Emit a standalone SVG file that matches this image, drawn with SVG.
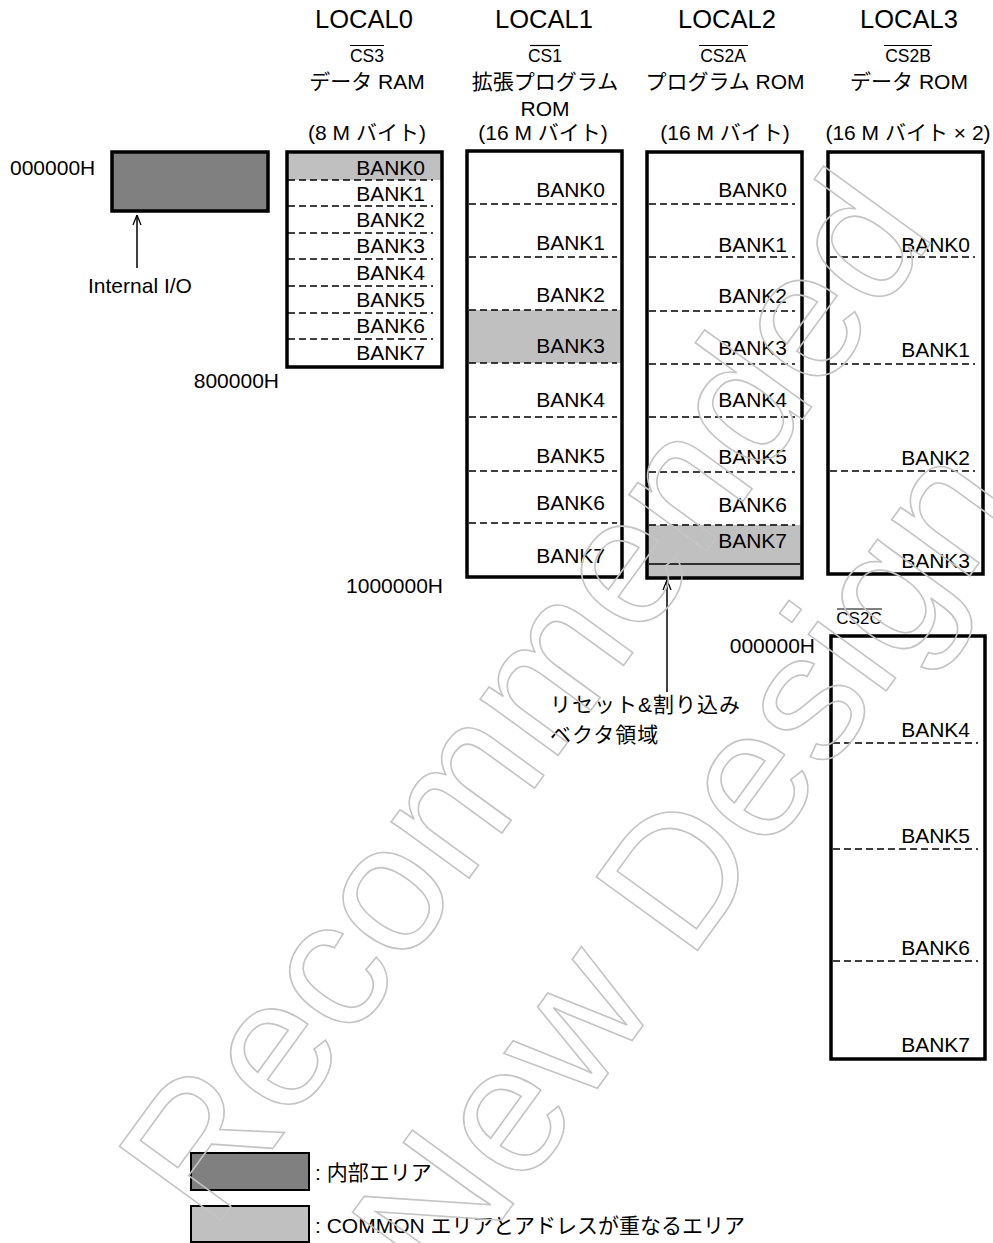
<svg xmlns="http://www.w3.org/2000/svg" width="993" height="1243" viewBox="0 0 993 1243">
<defs>
<style>
text{font-family:"Liberation Sans","Noto Sans CJK JP",Arial,sans-serif;fill:#000}
.t{font-size:21px}
.h{font-size:25.5px;text-anchor:middle}
.cs{font-size:17.5px;text-anchor:middle}
.m{font-size:21px;text-anchor:middle}
.b{font-size:21px;text-anchor:end}
.box{fill:none;stroke:#000;stroke-width:3.5}
.dash{stroke:#000;stroke-width:1.5;stroke-dasharray:7 4;fill:none}
.ol{stroke:#000;stroke-width:1.2}
.g1{fill:#c0c0c0}
.g2{fill:#808080}
.wm{font-size:182px;fill:none;stroke:#c4c4c4;stroke-width:1.6}
</style>
<marker id="ah" viewBox="0 0 10 10" refX="10" refY="5" markerWidth="10" markerHeight="10" markerUnits="userSpaceOnUse" orient="auto">
<path d="M0,1 L10,5 L0,9" fill="none" stroke="#000" stroke-width="1.3"/>
</marker>
</defs>
<rect width="993" height="1243" fill="#fff"/>

<g id="header-local0">
<text class="h" x="364" y="28">LOCAL0</text>
<text class="cs" x="367" y="62">CS3</text><line class="ol" x1="350" y1="45.5" x2="384" y2="45.5"/>
<text class="m" x="367" y="89">データ RAM</text>
<text class="m" x="367" y="140">(8 M バイト)</text>
</g>
<g id="header-local1">
<text class="h" x="544" y="28">LOCAL1</text>
<text class="cs" x="545" y="62">CS1</text><line class="ol" x1="530" y1="45.5" x2="560" y2="45.5"/>
<text class="m" x="545" y="89">拡張プログラム</text>
<text class="m" x="545" y="116">ROM</text>
<text class="m" x="543" y="140">(16 M バイト)</text>
</g>
<g id="header-local2">
<text class="h" x="727" y="28">LOCAL2</text>
<text class="cs" x="723" y="62">CS2A</text><line class="ol" x1="699" y1="45.5" x2="748" y2="45.5"/>
<text class="m" x="725" y="89">プログラム ROM</text>
<text class="m" x="725" y="140">(16 M バイト)</text>
</g>
<g id="header-local3">
<text class="h" x="909" y="28">LOCAL3</text>
<text class="cs" x="908" y="62">CS2B</text><line class="ol" x1="884" y1="45.5" x2="932" y2="45.5"/>
<text class="m" x="909" y="89">データ ROM</text>
<text class="m" x="908" y="140">(16 M バイト × 2)</text>
</g>

<g id="internal-io">
<text class="t" x="10" y="175">000000H</text>
<rect x="112" y="152" width="156" height="59" fill="#808080" stroke="#000" stroke-width="3.5"/>
<text class="t" x="88" y="293">Internal I/O</text>
</g>

<g id="local0">
<rect class="g1" x="288" y="153.5" width="153" height="26.5"/>
<rect class="box" x="287" y="152" width="155" height="215"/>
<path class="dash" d="M288,180H433M288,206H433M288,233H433M288,259H433M288,286H433M288,313H433M288,339H433"/>
<text class="b" x="425" y="175">BANK0</text>
<text class="b" x="425" y="201">BANK1</text>
<text class="b" x="425" y="227">BANK2</text>
<text class="b" x="425" y="253">BANK3</text>
<text class="b" x="425" y="280">BANK4</text>
<text class="b" x="425" y="307">BANK5</text>
<text class="b" x="425" y="333">BANK6</text>
<text class="b" x="425" y="360">BANK7</text>
<text class="b" x="279" y="388">800000H</text>
</g>

<g id="local1">
<rect class="g1" x="468" y="310" width="153" height="53"/>
<rect class="box" x="467" y="151" width="155" height="426"/>
<path class="dash" d="M469,204H617M469,257H617M469,310H617M469,363H617M469,417H617M469,471H617M469,523H617"/>
<text class="b" x="605" y="197">BANK0</text>
<text class="b" x="605" y="250">BANK1</text>
<text class="b" x="605" y="302">BANK2</text>
<text class="b" x="605" y="353">BANK3</text>
<text class="b" x="605" y="407">BANK4</text>
<text class="b" x="605" y="463">BANK5</text>
<text class="b" x="605" y="510">BANK6</text>
<text class="b" x="605" y="563">BANK7</text>
<text class="b" x="443" y="593">1000000H</text>
</g>

<g id="local2">
<rect class="g1" x="648" y="525" width="153" height="52"/>
<rect class="box" x="647" y="152" width="155" height="426"/>
<line x1="649" y1="564" x2="800" y2="564" stroke="#000" stroke-width="1.3"/>
<path class="dash" d="M649,204H795M649,257H795M649,311H795M649,364H795M649,417H795M649,472H795M649,525H795"/>
<text class="b" x="787" y="197">BANK0</text>
<text class="b" x="787" y="252">BANK1</text>
<text class="b" x="787" y="303">BANK2</text>
<text class="b" x="787" y="355">BANK3</text>
<text class="b" x="787" y="407">BANK4</text>
<text class="b" x="787" y="464">BANK5</text>
<text class="b" x="787" y="512">BANK6</text>
<text class="b" x="787" y="548">BANK7</text>
<text class="t" x="550" y="712" letter-spacing="1">リセット&amp;割り込み</text>
<text class="t" x="550" y="742" letter-spacing="1">ベクタ領域</text>
</g>

<g id="local3">
<rect class="box" x="828" y="152" width="155" height="422"/>
<path class="dash" d="M830,257H975M830,364H975M830,471H975"/>
<text class="b" x="970" y="252">BANK0</text>
<text class="b" x="970" y="357">BANK1</text>
<text class="b" x="970" y="465">BANK2</text>
<text class="b" x="970" y="568">BANK3</text>
</g>

<g id="local3-cs2c">
<text class="cs" x="859" y="624" style="font-size:17px">CS2C</text><line class="ol" x1="837" y1="609" x2="882" y2="609"/>
<text class="b" x="815" y="653">000000H</text>
<rect class="box" x="831" y="636" width="154" height="423"/>
<path class="dash" d="M833,743H978M833,849H978M833,961H978"/>
<text class="b" x="970" y="737">BANK4</text>
<text class="b" x="970" y="843">BANK5</text>
<text class="b" x="970" y="955">BANK6</text>
<text class="b" x="970" y="1052">BANK7</text>
</g>

<g id="connectors">
<line x1="137" y1="268" x2="137" y2="215" stroke="#000" stroke-width="1.5" marker-end="url(#ah)"/>
<line x1="667" y1="692" x2="667" y2="580" stroke="#000" stroke-width="1.5" marker-end="url(#ah)"/>
</g>

<g id="legend">
<rect class="g2" x="191" y="1153" width="118" height="37" stroke="#000" stroke-width="2"/>
<text class="t" x="315" y="1180">: 内部エリア</text>
<rect class="g1" x="191" y="1206" width="118" height="36" stroke="#000" stroke-width="2"/>
<text class="t" x="315" y="1233">: COMMON エリアとアドレスが重なるエリア</text>
</g>

<g id="watermark">
<text class="wm" transform="translate(212,1232) rotate(-54)">Recommended</text>
<text class="wm" transform="translate(445,1298) rotate(-54)">New Design</text>
</g>
</svg>
